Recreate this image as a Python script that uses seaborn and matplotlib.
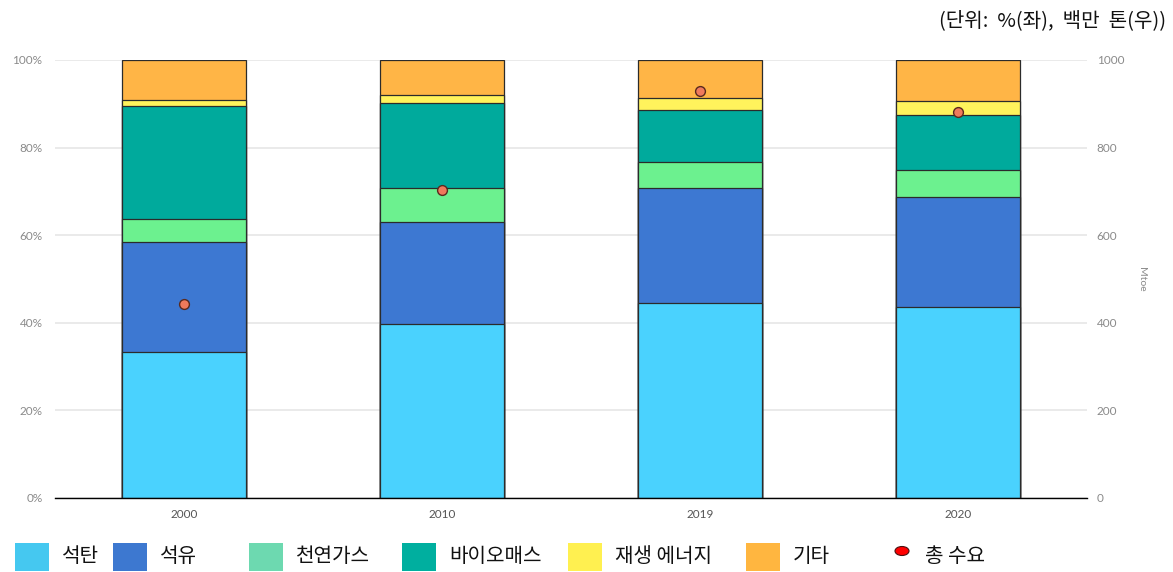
import numpy as np
import pandas as pd
import matplotlib
matplotlib.use('Agg')
import matplotlib.pyplot as plt
from matplotlib.patches import Rectangle, Ellipse
import seaborn as sns

# ---- data ----
years = ['2000', '2010', '2019', '2020']
categories = ['석탄', '석유', '천연가스', '바이오매스', '재생 에너지', '기타']
coal = [33.3, 39.7, 44.5, 43.6]
oil = [25.1, 23.3, 26.3, 25.1]
gas = [5.3, 7.8, 5.9, 6.2]
biomass = [25.8, 19.4, 11.9, 12.5]
renewables = [1.4, 1.8, 2.7, 3.2]
other = [9.1, 8.0, 8.7, 9.4]
total_demand = [443, 703, 929, 881]
total_label = '총 수요'
left_ticks = [0, 20, 40, 60, 80, 100]
right_ticks = [0, 200, 400, 600, 800, 1000]
unit_text = '(단위:  %(좌),  백만  톤(우))'
right_label = 'Mtoe'

# ---- styles ----
bar_colors = ['#4AD2FE', '#3D78D2', '#6CF18F', '#00AA9C', '#FFF35C', '#FFB546']
legend_colors = ['#45C8F0', '#3D78D0', '#6DD9B0', '#00AF9F', '#FFF050', '#FFB640']

series = [coal, oil, gas, biomass, renewables, other]
rows = []
for cat, vals in zip(categories, series):
    for y, v in zip(years, vals):
        rows.append({'year': y, 'category': cat, 'value': v})
df = pd.DataFrame(rows)
df['cum'] = df.groupby('year')['value'].cumsum()

sns.set_theme(style='white')
plt.rcParams['font.family'] = ['Noto Sans CJK KR', 'DejaVu Sans']

fig = plt.figure(figsize=(11.73, 5.72), dpi=100)
ax = fig.add_axes([55/1173, 1-498/572, (1087-55)/1173, (498-60)/572])

for cat, col in reversed(list(zip(categories, bar_colors))):
    sub = df[df['category'] == cat]
    sns.barplot(data=sub, x='year', y='cum', order=years, color=col,
                saturation=1, width=0.48, edgecolor='#2b2b2b', linewidth=0.9,
                errorbar=None, ax=ax, zorder=2)

ax.set_xlim(-0.5, len(years) - 0.5)
ax.set_ylim(0, 100)
ax.set_yticks(left_ticks)
ax.set_yticklabels([f'{t}%' for t in left_ticks], fontfamily='Lato', fontsize=8.5, color='#8a8a8a')
ax.tick_params(axis='y', length=0, pad=9)
ax.yaxis.grid(True, color='#E6E6E6', linewidth=1.2)
ax.set_axisbelow(True)
ax.set_xlabel('')
ax.set_ylabel('')
ax.set_xticks(range(len(years)))
ax.set_xticklabels(years, fontfamily='Lato', fontsize=8.5, color='#555555')
ax.tick_params(axis='x', which='major', length=0, pad=8)
ax.set_xticks(np.arange(-0.5, len(years)), minor=True)
ax.tick_params(axis='x', which='minor', length=8, width=1, color='black', direction='out')
for s in ['top', 'left', 'right']:
    ax.spines[s].set_visible(False)
ax.spines['bottom'].set_color('black')
ax.spines['bottom'].set_linewidth(1)

ax2 = ax.twinx()
sns.scatterplot(x=np.arange(len(years)), y=total_demand, ax=ax2, s=50,
                color='#F07A5C', edgecolor='#5A2A1E', linewidth=1.0, zorder=5)
ax2.set_xlim(-0.5, len(years) - 0.5)
ax2.set_ylim(0, 1000)
ax2.set_yticks(right_ticks)
ax2.set_yticklabels([str(t) for t in right_ticks], fontfamily='Lato', fontsize=8.5, color='#8a8a8a')
ax2.tick_params(axis='y', length=0, pad=7)
ax2.set_ylabel(right_label, rotation=270, fontfamily='Lato', fontsize=7.5, color='#8a8a8a', labelpad=16)
for s in ['top', 'left', 'right', 'bottom']:
    ax2.spines[s].set_visible(False)

# unit text
fig.text(1166/1173, 1-21/572, unit_text, ha='right', va='center', fontsize=14.5, color='#111111')

# manual legend
W, H = 1173, 572
patch_x = [15, 113, 249, 402, 568, 746]
for x0, col, lab in zip(patch_x, legend_colors, categories):
    fig.add_artist(Rectangle((x0/W, 1-571/H), 34/W, 28/H, transform=fig.transFigure,
                             facecolor=col, edgecolor='none'))
    fig.text((x0+47)/W, 1-557/H, lab, ha='left', va='center', fontsize=14.5, color='#111111')
fig.add_artist(Ellipse((902/W, 1-551/H), 14/W, 9/H, transform=fig.transFigure,
                       facecolor='#FF0000', edgecolor='#4a1010', linewidth=0.8))
fig.text(925/W, 1-557/H, total_label, ha='left', va='center', fontsize=14.5, color='#111111')

fig.savefig('out.png', dpi=100)
